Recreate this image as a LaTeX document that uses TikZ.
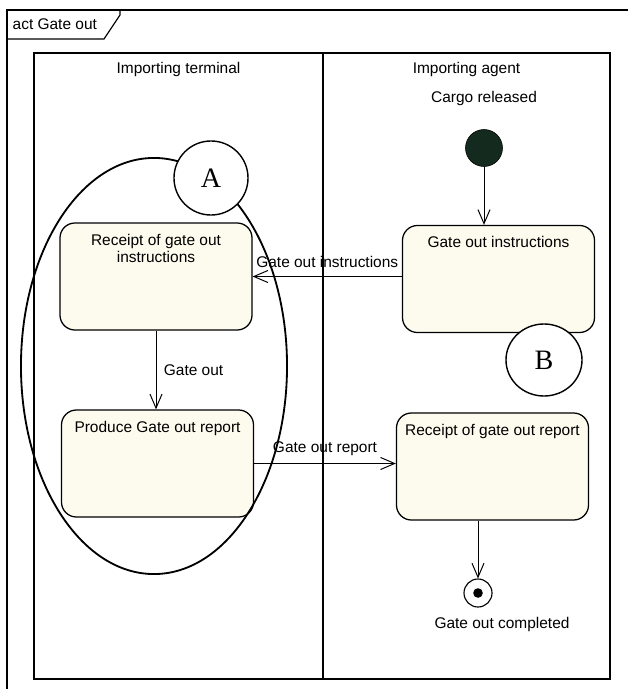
\documentclass[tikz,border=0pt]{standalone}
\usepackage{fontspec}
\setmainfont{Liberation Sans}
\newfontfamily\tagfont{Liberation Serif}
\usetikzlibrary{arrows.meta, shapes.geometric, positioning}
\definecolor{actionfill}{RGB}{253,251,238}
\definecolor{startfill}{RGB}{20,42,30}

\begin{document}
\begin{tikzpicture}[
  x=0.025cm, y=-0.025cm,
  lbl/.style     = {font=\fontsize{11}{12.5}\selectfont, inner sep=1pt},
  action/.style  = {rectangle, rounded corners=0.375cm, draw, line width=0.9pt,
                    fill=actionfill, minimum width=4.8cm, minimum height=2.675cm},
  marker/.style  = {ellipse, draw, line width=1pt, fill=white, inner sep=0pt,
                    font=\tagfont\fontsize{20}{22}\selectfont},
  arrow/.style   = {-{Straight Barb[length=3.5mm, width=3mm]}, line width=0.7pt},
  startnode/.style={circle, draw, fill=startfill, minimum size=0.925cm},
  endnode/.style = {circle, draw, line width=0.8pt, fill=white, minimum size=0.7cm,
                    path picture={\fill[black] (path picture bounding box.center) circle (0.12cm);}},
  lane/.style    = {draw, line width=0.8pt}
]

\useasboundingbox (0,0) rectangle (628,689);

\draw[lane] (628,10) -- (7,10) -- (7,689);
\draw[lane] (7,39) -- (104,39) -- (120,15) -- (120,10);
\node[lbl, anchor=west] (frameTitle) at (11,24) {act Gate out};

\draw[lane] (34,53) rectangle (610,679);
\draw[lane] (323,53) -- (323,679);
\node[lbl] (terminalLane) at (178.5,70) {Importing terminal};
\node[lbl] (agentLane)    at (466.5,70) {Importing agent};

\node[startnode, label={[lbl, label distance=0.55cm]above:Cargo released}]
  (start) at (484,148) {};

\node[action, label={[lbl, anchor=north, yshift=-0.25cm]north:Gate out instructions}]
  (sendInstr) at (498.5,279) {};

\node[action, label={[lbl, align=center, anchor=north, yshift=-0.25cm]north:Receipt of gate out\\instructions}]
  (recInstr) at (156,276.5) {};

\node[action, label={[lbl, anchor=north, yshift=-0.25cm]north:Produce Gate out report}]
  (produce) at (157.5,463.5) {};

\node[action, label={[lbl, anchor=north, yshift=-0.25cm]north:Receipt of gate out report}]
  (recReport) at (492.5,466.5) {};

\node[endnode, label={[lbl, label distance=0.2cm, xshift=0.6cm]below:Gate out completed}]
  (done) at (478,593) {};

\node[ellipse, draw, line width=1.3pt, minimum width=6.65cm, minimum height=10.4cm]
  (groupA) at (154,366) {};

\node[marker, minimum width=1.85cm, minimum height=1.85cm] (markA) at (211,178) {A};
\node[marker, minimum width=1.9cm, minimum height=1.8cm]   (markB) at (544,360) {B};

\draw[arrow] (start) -- (start |- sendInstr.north);
\draw[arrow] (sendInstr.west |- recInstr.east) -- node[lbl, above=0.18cm]{Gate out instructions} (recInstr.east);
\draw[arrow] (recInstr.south) -- node[lbl, right=0.15cm]{Gate out} (recInstr.south |- produce.north);
\draw[arrow] (produce.east) -- node[lbl, above=0.15cm]{Gate out report} (produce.east -| recReport.west);
\draw[arrow] (recReport.south -| done) -- (done.north);

\end{tikzpicture}
\end{document}
